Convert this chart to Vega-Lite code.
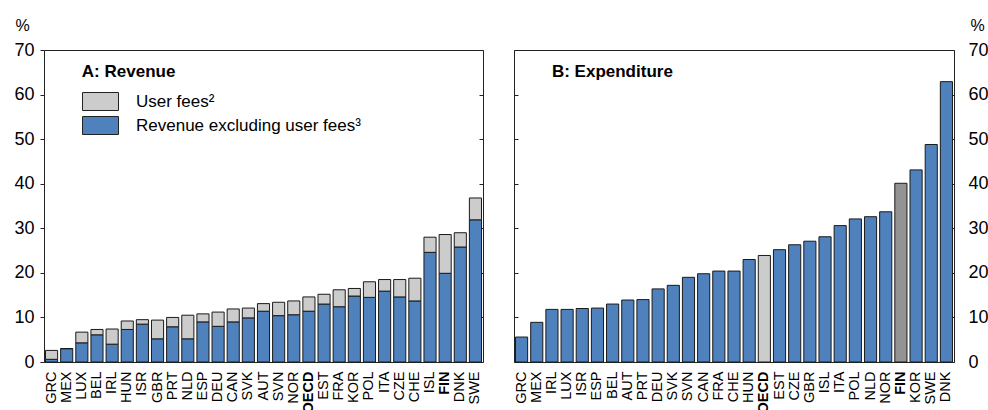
{
  "$schema": "https://vega.github.io/schema/vega-lite/v6.json",
  "padding": {"left": 13, "top": 16, "right": 0, "bottom": 0},
  "spacing": 28,
  "datasets": {
    "revenue": [
      {"country": "GRC", "series": "Revenue excluding user fees³", "value": 0.6},
      {"country": "GRC", "series": "User fees²", "value": 2.0},
      {"country": "MEX", "series": "Revenue excluding user fees³", "value": 3.0},
      {"country": "MEX", "series": "User fees²", "value": 0.0},
      {"country": "LUX", "series": "Revenue excluding user fees³", "value": 4.3},
      {"country": "LUX", "series": "User fees²", "value": 2.4},
      {"country": "BEL", "series": "Revenue excluding user fees³", "value": 6.1},
      {"country": "BEL", "series": "User fees²", "value": 1.2},
      {"country": "IRL", "series": "Revenue excluding user fees³", "value": 4.0},
      {"country": "IRL", "series": "User fees²", "value": 3.4},
      {"country": "HUN", "series": "Revenue excluding user fees³", "value": 7.3},
      {"country": "HUN", "series": "User fees²", "value": 1.9},
      {"country": "ISR", "series": "Revenue excluding user fees³", "value": 8.5},
      {"country": "ISR", "series": "User fees²", "value": 1.0},
      {"country": "GBR", "series": "Revenue excluding user fees³", "value": 5.2},
      {"country": "GBR", "series": "User fees²", "value": 4.2},
      {"country": "PRT", "series": "Revenue excluding user fees³", "value": 7.9},
      {"country": "PRT", "series": "User fees²", "value": 2.1},
      {"country": "NLD", "series": "Revenue excluding user fees³", "value": 5.2},
      {"country": "NLD", "series": "User fees²", "value": 5.3},
      {"country": "ESP", "series": "Revenue excluding user fees³", "value": 9.0},
      {"country": "ESP", "series": "User fees²", "value": 1.8},
      {"country": "DEU", "series": "Revenue excluding user fees³", "value": 8.0},
      {"country": "DEU", "series": "User fees²", "value": 3.2},
      {"country": "CAN", "series": "Revenue excluding user fees³", "value": 9.0},
      {"country": "CAN", "series": "User fees²", "value": 2.9},
      {"country": "SVK", "series": "Revenue excluding user fees³", "value": 9.9},
      {"country": "SVK", "series": "User fees²", "value": 2.2},
      {"country": "AUT", "series": "Revenue excluding user fees³", "value": 11.4},
      {"country": "AUT", "series": "User fees²", "value": 1.7},
      {"country": "SVN", "series": "Revenue excluding user fees³", "value": 10.4},
      {"country": "SVN", "series": "User fees²", "value": 3.0},
      {"country": "NOR", "series": "Revenue excluding user fees³", "value": 10.6},
      {"country": "NOR", "series": "User fees²", "value": 3.1},
      {"country": "OECD", "series": "Revenue excluding user fees³", "value": 11.4},
      {"country": "OECD", "series": "User fees²", "value": 3.2},
      {"country": "EST", "series": "Revenue excluding user fees³", "value": 13.0},
      {"country": "EST", "series": "User fees²", "value": 2.2},
      {"country": "FRA", "series": "Revenue excluding user fees³", "value": 12.4},
      {"country": "FRA", "series": "User fees²", "value": 3.8},
      {"country": "KOR", "series": "Revenue excluding user fees³", "value": 14.8},
      {"country": "KOR", "series": "User fees²", "value": 1.7},
      {"country": "POL", "series": "Revenue excluding user fees³", "value": 14.5},
      {"country": "POL", "series": "User fees²", "value": 3.5},
      {"country": "ITA", "series": "Revenue excluding user fees³", "value": 15.9},
      {"country": "ITA", "series": "User fees²", "value": 2.6},
      {"country": "CZE", "series": "Revenue excluding user fees³", "value": 14.6},
      {"country": "CZE", "series": "User fees²", "value": 3.9},
      {"country": "CHE", "series": "Revenue excluding user fees³", "value": 13.7},
      {"country": "CHE", "series": "User fees²", "value": 5.1},
      {"country": "ISL", "series": "Revenue excluding user fees³", "value": 24.6},
      {"country": "ISL", "series": "User fees²", "value": 3.4},
      {"country": "FIN", "series": "Revenue excluding user fees³", "value": 19.9},
      {"country": "FIN", "series": "User fees²", "value": 8.7},
      {"country": "DNK", "series": "Revenue excluding user fees³", "value": 25.8},
      {"country": "DNK", "series": "User fees²", "value": 3.2},
      {"country": "SWE", "series": "Revenue excluding user fees³", "value": 31.9},
      {"country": "SWE", "series": "User fees²", "value": 4.9}
    ],
    "expenditure": [
      {"country": "GRC", "value": 5.6},
      {"country": "MEX", "value": 8.9},
      {"country": "IRL", "value": 11.8},
      {"country": "LUX", "value": 11.8},
      {"country": "ISR", "value": 12.0},
      {"country": "ESP", "value": 12.1},
      {"country": "BEL", "value": 13.0},
      {"country": "AUT", "value": 13.9},
      {"country": "PRT", "value": 14.0},
      {"country": "DEU", "value": 16.4},
      {"country": "SVK", "value": 17.2},
      {"country": "SVN", "value": 19.0},
      {"country": "CAN", "value": 19.8},
      {"country": "FRA", "value": 20.4},
      {"country": "CHE", "value": 20.4},
      {"country": "HUN", "value": 23.0},
      {"country": "OECD", "value": 23.9},
      {"country": "EST", "value": 25.2},
      {"country": "CZE", "value": 26.3},
      {"country": "GBR", "value": 27.1},
      {"country": "ISL", "value": 28.1},
      {"country": "ITA", "value": 30.6},
      {"country": "POL", "value": 32.1},
      {"country": "NLD", "value": 32.6},
      {"country": "NOR", "value": 33.7},
      {"country": "FIN", "value": 40.1},
      {"country": "KOR", "value": 43.1},
      {"country": "SWE", "value": 48.8},
      {"country": "DNK", "value": 62.9}
    ]
  },
  "hconcat": [
    {
      "width": 439,
      "height": 312,
      "layer": [
        {
          "data": {"name": "revenue"},
          "mark": {"type": "bar", "stroke": "#1a1a1a", "strokeWidth": 1},
          "encoding": {
            "x": {"field": "country", "type": "nominal",
                  "scale": {"domain": ["GRC","MEX","LUX","BEL","IRL","HUN","ISR","GBR","PRT","NLD","ESP","DEU","CAN","SVK","AUT","SVN","NOR","OECD","EST","FRA","KOR","POL","ITA","CZE","CHE","ISL","FIN","DNK","SWE"], "paddingInner": 0.2, "paddingOuter": 0.1},
                  "axis": {"title": null, "labelAngle": -90, "labelAlign": "right", "labelBaseline": "middle", "ticks": false, "labelPadding": 9, "labelFontSize": 14.5,
                           "labelFontWeight": {"condition": {"test": "datum.value === 'FIN' || datum.value === 'OECD'", "value": "bold"}, "value": "normal"}}},
            "y": {"field": "value", "type": "quantitative", "stack": "zero",
                  "scale": {"domain": [0, 70]},
                  "axis": {"orient": "left", "values": [0, 10, 20, 30, 40, 50, 60, 70], "tickSize": 4, "labelPadding": 6, "labelFontSize": 18,
                           "title": "%", "titleAngle": 0, "titleAlign": "center", "titleBaseline": "alphabetic", "titleX": -22, "titleY": -20, "titleFontSize": 16, "titleFontWeight": "normal"}},
            "color": {"field": "series", "type": "nominal",
                      "scale": {"domain": ["User fees²", "Revenue excluding user fees³"], "range": ["#cccccc", "#4f81bd"]},
                      "legend": {"orient": "none", "legendX": 47, "legendY": 42, "title": null, "symbolType": "M-2,-1H2V1H-2Z", "symbolSize": 324,
                                 "symbolStrokeColor": "#222", "symbolStrokeWidth": 1, "symbolOpacity": 1, "labelFontSize": 17, "labelOffset": 26, "labelLimit": 400, "rowPadding": 1, "labelColor": "#000"}},
            "order": {"field": "series", "sort": "ascending"}
          }
        },
        {
          "data": {"values": [{}]},
          "mark": {"type": "text", "align": "left", "baseline": "alphabetic", "fontSize": 17, "fontWeight": "bold", "font": "Liberation Sans", "color": "#000"},
          "encoding": {
            "x": {"datum": "LUX", "type": "nominal"},
            "y": {"datum": 63.9, "type": "quantitative",
                  "scale": {"domain": [0, 70]},
                  "axis": {"orient": "right", "values": [0, 10, 20, 30, 40, 50, 60, 70], "labels": false, "tickSize": -4, "title": null}},
            "text": {"value": "A: Revenue"}
          }
        }
      ],
      "resolve": {"scale": {"y": "independent"}}
    },
    {
      "width": 440,
      "height": 312,
      "layer": [
        {
          "data": {"name": "expenditure"},
          "mark": {"type": "bar", "stroke": "#1a1a1a", "strokeWidth": 1},
          "encoding": {
            "x": {"field": "country", "type": "nominal",
                  "scale": {"domain": ["GRC","MEX","IRL","LUX","ISR","ESP","BEL","AUT","PRT","DEU","SVK","SVN","CAN","FRA","CHE","HUN","OECD","EST","CZE","GBR","ISL","ITA","POL","NLD","NOR","FIN","KOR","SWE","DNK"], "paddingInner": 0.2, "paddingOuter": 0.1},
                  "axis": {"title": null, "labelAngle": -90, "labelAlign": "right", "labelBaseline": "middle", "ticks": false, "labelPadding": 9, "labelFontSize": 14.5,
                           "labelFontWeight": {"condition": {"test": "datum.value === 'FIN' || datum.value === 'OECD'", "value": "bold"}, "value": "normal"}}},
            "y": {"field": "value", "type": "quantitative",
                  "scale": {"domain": [0, 70]},
                  "axis": {"orient": "right", "values": [0, 10, 20, 30, 40, 50, 60, 70], "tickSize": -4, "labelPadding": 18, "labelFontSize": 18,
                           "title": "%", "titleAngle": 0, "titleAlign": "center", "titleBaseline": "alphabetic", "titleX": 23, "titleY": -20, "titleFontSize": 16, "titleFontWeight": "normal"}},
            "color": {"condition": [{"test": "datum.country === 'FIN'", "value": "#939393"}, {"test": "datum.country === 'OECD'", "value": "#cccccc"}], "value": "#4f81bd"}
          }
        },
        {
          "data": {"values": [{}]},
          "mark": {"type": "text", "align": "left", "baseline": "alphabetic", "fontSize": 17, "fontWeight": "bold", "font": "Liberation Sans", "color": "#000"},
          "encoding": {
            "x": {"datum": "IRL", "type": "nominal"},
            "y": {"datum": 63.9, "type": "quantitative",
                  "scale": {"domain": [0, 70]},
                  "axis": {"orient": "left", "values": [0, 10, 20, 30, 40, 50, 60, 70], "labels": false, "tickSize": -4, "title": null}},
            "text": {"value": "B: Expenditure"}
          }
        }
      ],
      "resolve": {"scale": {"y": "independent"}}
    }
  ],
  "config": {
    "font": "Liberation Sans",
    "view": {"stroke": "#222", "strokeWidth": 1},
    "axis": {"domain": false, "grid": false, "labelColor": "#000", "titleColor": "#000", "tickColor": "#222", "labelFont": "Liberation Sans", "titleFont": "Liberation Sans"},
    "legend": {"labelFont": "Liberation Sans"}
  }
}
